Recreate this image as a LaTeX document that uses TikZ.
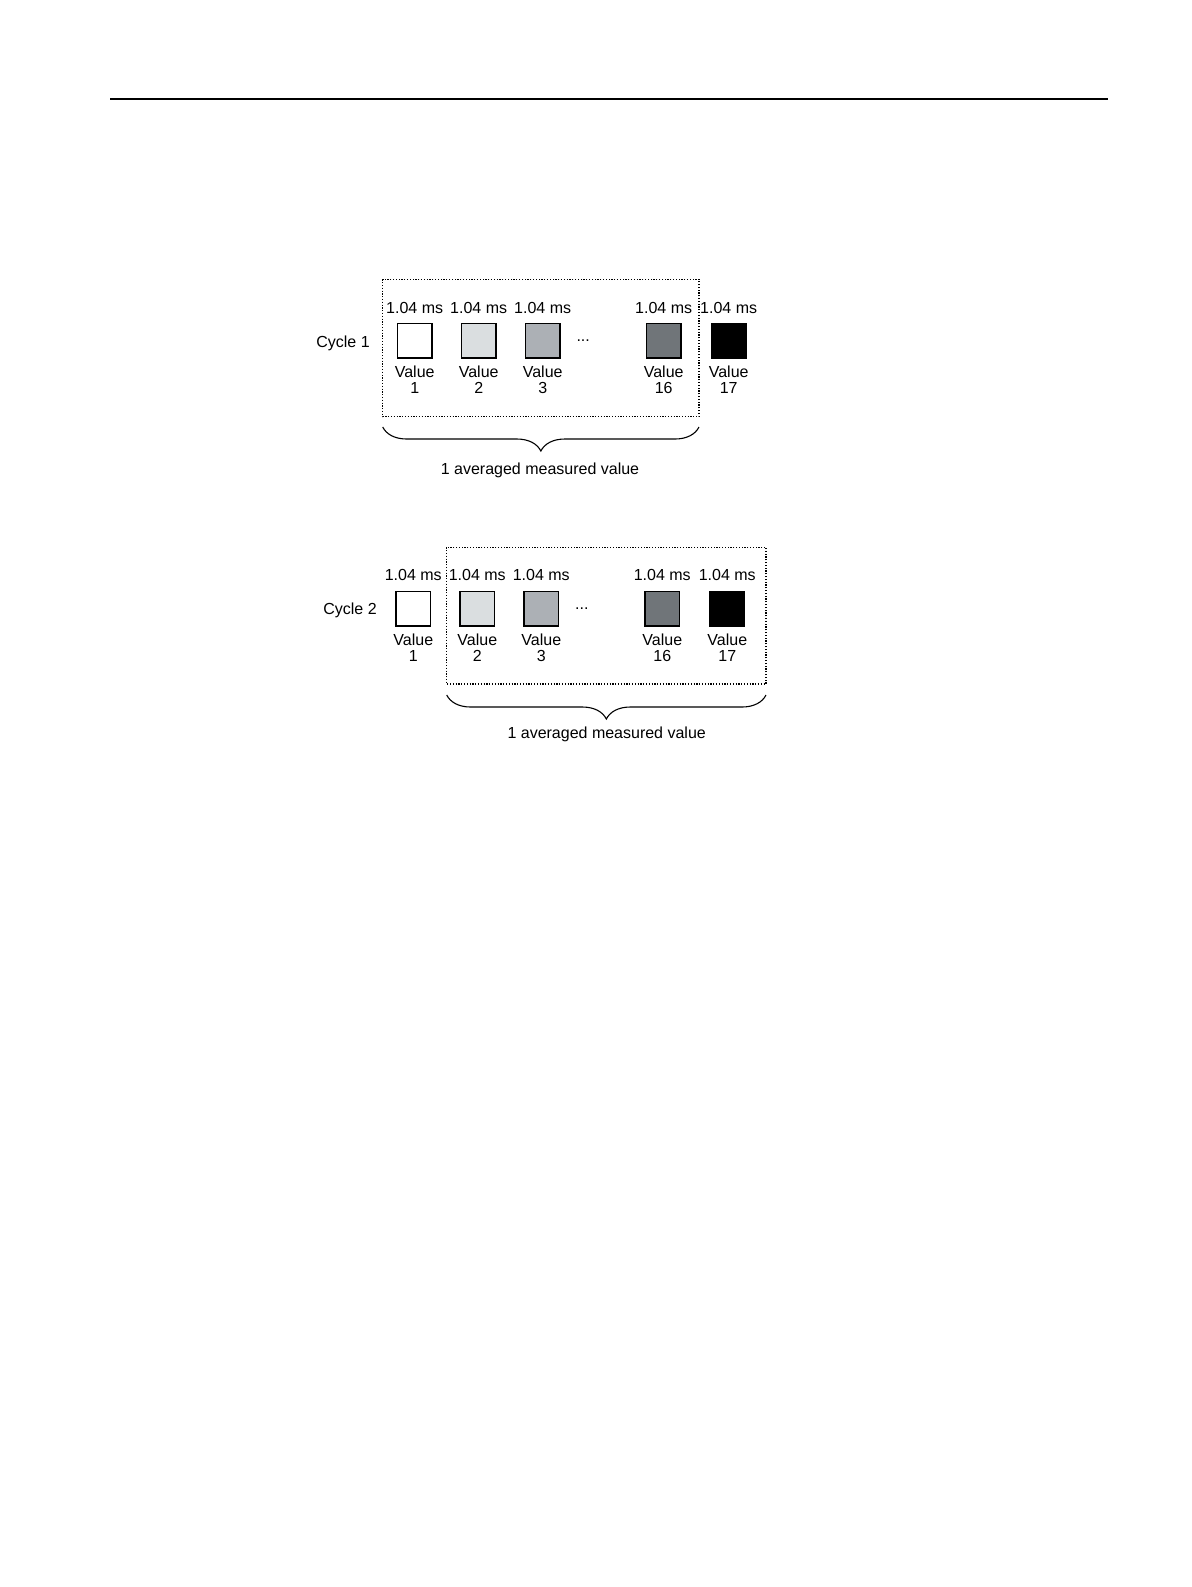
\documentclass[tikz,border=0pt]{standalone}
\usepackage{fontspec}
\setmainfont{Liberation Sans}
\usetikzlibrary{decorations.pathreplacing}
\definecolor{grau1}{RGB}{218,222,224}
\definecolor{grau2}{RGB}{172,176,181}
\definecolor{grau3}{RGB}{112,117,121}
\tikzset{
	feld/.style={draw=black, line width=0.85pt, minimum size=17.2pt, inner sep=0pt},
	txt/.style={font=\fontsize{8}{8.3}\selectfont, inner sep=0pt, anchor=base},
	rahmen/.style={line width=0.7pt, dash pattern=on 0.6pt off 0.8pt},
	klammer/.style={decorate, decoration={brace, mirror, amplitude=12pt}, line width=0.55pt}
}
\begin{document}
\begin{tikzpicture}[x=0.5pt, y=-0.5pt]
		\useasboundingbox (0,0) rectangle (1191,1587);
		% Kopfzeile
		\coordinate (kl) at (110,99);
		\coordinate (kr) at (1108,99);
		\draw [line width=0.9pt] (kl) -- (kr);
		% Messwerte beider Zyklen
		\foreach \c/\y/\dx in {1/340.8/0.7, 2/608.7/-0.7} {
			\foreach \n/\x/\farbe in {1/414/white, 2/478/grau1, 3/542/grau2, 16/663/grau3, 17/728/black} {
				\node[feld, fill=\farbe] (q\c-\n) at (\x+\dx, \y) {};
				\node[txt] (t\c-\n) at (\x+\dx, \y-27.8) {1.04 ms};
				\node[txt] (v\c-\n) at (\x+\dx, \y+36.5) {Value};
				\node[txt] (n\c-\n) at (\x+\dx, \y+53.1) {\n};
			}
			\node[txt] (d\c) at (582.5+\dx, \y+1) {...};
		}
		\node[txt] (z1) at (343,347.3) {Cycle 1};
		\node[txt] (z2) at (350,614) {Cycle 2};
		% Mittelungsfenster
		\coordinate (r1a) at (382.7,279.3);
		\coordinate (r1b) at (699,416.7);
		\coordinate (r2a) at (446.7,547.3);
		\coordinate (r2b) at (766,684);
		\draw [rahmen] (r1a) rectangle (r1b);
		\draw [rahmen] (r2a) rectangle (r2b);
		% Klammern
		\coordinate (k1a) at (382.7,427);
		\coordinate (k1b) at (699,427);
		\coordinate (k2a) at (446.7,695);
		\coordinate (k2b) at (766,695);
		\draw [klammer] (k1a) -- (k1b);
		\draw [klammer] (k2a) -- (k2b);
		\node[txt] (m1) at (540,474.9) {1 averaged measured value};
		\node[txt] (m2) at (606.7,738.3) {1 averaged measured value};
	\end{tikzpicture}
\end{document}
